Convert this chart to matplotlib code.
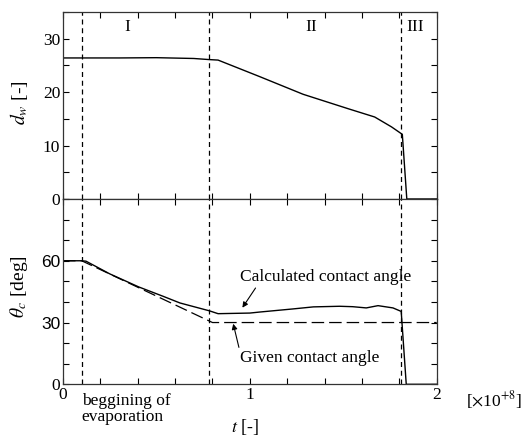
import numpy as np
import matplotlib
matplotlib.use('Agg')
import matplotlib.pyplot as plt

plt.rcParams['font.family'] = 'Liberation Serif'
plt.rcParams['mathtext.fontset'] = 'stix'
plt.rcParams['font.size'] = 12.5

# wetted diameter d_w [-] vs t [x1e8]
t_dw = [0.0, 0.10, 0.30, 0.50, 0.70, 0.78, 0.83, 1.053, 1.285, 1.526, 1.668, 1.758, 1.816, 1.84, 2.0]
d_w = [26.4, 26.4, 26.4, 26.45, 26.3, 26.1, 26.0, 22.9, 19.6, 16.9, 15.35, 13.5, 12.1, 0.0, 0.0]

# calculated contact angle [deg]
t_calc = [0.0, 0.10, 0.123, 0.251, 0.405, 0.537, 0.626, 0.783, 0.83, 1.0, 1.053, 1.23, 1.34,
          1.48, 1.55, 1.623, 1.686, 1.766, 1.81, 1.837, 2.0]
th_calc = [60.0, 60.0, 59.8, 53.6, 47.3, 42.7, 39.5, 35.7, 34.3, 34.6, 35.1, 36.6, 37.6,
           37.9, 37.7, 37.1, 38.2, 37.1, 35.4, 0.0, 0.0]

# given contact angle [deg]
t_given = [0.0, 0.10, 0.80, 2.0]
th_given = [60.0, 60.0, 30.0, 30.0]

# stage boundaries and labels
t_stage = [0.10, 0.782, 1.807]
stage_names = ['I', 'II', 'III']
stage_pos = [0.345, 1.33, 1.886]

W, H = 524, 436
fig = plt.figure(figsize=(W / 100, H / 100), dpi=100)
left, right = 63 / W, 436.7 / W
ax1 = fig.add_axes([left, 1 - 199 / H, right - left, (199 - 12) / H])
ax2 = fig.add_axes([left, 1 - 384.3 / H, right - left, (384.3 - 199) / H])

for ax in (ax1, ax2):
    ax.set_xlim(0, 2)
    ax.tick_params(direction='in', which='both', top=True, right=True,
                   length=4, width=0.8, labelsize=12.5, pad=2)
    ax.set_xticks(np.arange(0, 2.01, 0.2))
    for s in ax.spines.values():
        s.set_linewidth(0.9)
        s.set_color('#333333')
    for tv in t_stage:
        ax.axvline(tv, color='black', lw=0.9, ls=(0, (4, 3)))

ax1.plot(t_dw, d_w, color='black', lw=1.0)
ax1.set_ylim(0, 35)
ax1.set_yticks(np.arange(0, 36, 5))
ax1.set_yticklabels(['0', '', '10', '', '20', '', '30', ''])
ax1.set_xticklabels([])
for name, pos in zip(stage_names, stage_pos):
    ax1.text(pos, 32.2, name, ha='center', va='center', fontsize=12.5)

ax2.plot(t_given, th_given, color='black', lw=0.9, ls=(0, (10, 4)))
ax2.plot(t_calc, th_calc, color='black', lw=1.0)
ax2.set_ylim(0, 90)
ax2.set_yticks(np.arange(0, 91, 10))
ylabs = ax2.set_yticklabels(['0', '', '', '30', '', '', '60', '', '', ''])
for lab in ylabs:
    if lab.get_text() in ('30', '60'):
        lab.set_family('Liberation Sans')
ax2.set_xticklabels(['0', '', '', '', '', '1', '', '', '', '', '2'])

# axis labels
fig.text(19 / W, 1 - 103 / H, '$d_w$ [-]', rotation=90, ha='center', va='center', fontsize=14)
fig.text(19 / W, 1 - 287 / H, r'$\theta_c$ [deg]', rotation=90, ha='center', va='center', fontsize=14)
fig.text(245 / W, 1 - 427 / H, '$t$ [-]', ha='center', va='center', fontsize=13)

ax2.annotate('Calculated contact angle', xy=(0.96, 37.2), xytext=(1.407, 52),
             ha='center', va='center', fontsize=12.5,
             arrowprops=dict(arrowstyle='-|>', color='black', lw=0.8,
                             mutation_scale=8, shrinkA=0, shrinkB=0,
                             relpos=(0.1, 0.0)))
ax2.annotate('Given contact angle', xy=(0.911, 29.4), xytext=(1.318, 12.7),
             ha='center', va='center', fontsize=12.5,
             arrowprops=dict(arrowstyle='-|>', color='black', lw=0.8,
                             mutation_scale=8, shrinkA=0, shrinkB=0,
                             relpos=(0.0, 1.0)))

fig.text(81.7 / W, 1 - 409 / H, 'beggining of\nevaporation', ha='left', va='center',
         fontsize=12.5, linespacing=0.95)
fig.text(494 / W, 1 - 400 / H, r'[$\times$10$^{+8}$]', ha='center', va='center', fontsize=12.5)

fig.savefig('out.png', dpi=100)
